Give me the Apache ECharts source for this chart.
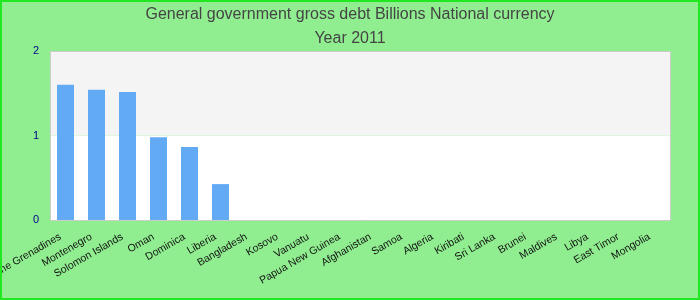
<!DOCTYPE html>
<html><head><meta charset="utf-8">
<script src="https://cdn.jsdelivr.net/npm/echarts@6/dist/echarts.min.js"></script>
<style>html,body{margin:0;padding:0;}#c{width:700px;height:300px;}</style>
</head><body><div id="c"></div>
<script>
const categories = ["Saint Vincent and the Grenadines","Montenegro","Solomon Islands","Oman","Dominica","Liberia","Bangladesh","Kosovo","Vanuatu","Papua New Guinea","Afghanistan","Samoa","Algeria","Kiribati","Sri Lanka","Brunei","Maldives","Libya","East Timor","Mongolia"];
const values = [1.60,1.54,1.515,0.98,0.865,0.425,0,0,0,0,0,0,0,0,0,0,0,0,0,0];
const titleLines = ["General government gross debt Billions National currency","Year 2011"];
const chart = echarts.init(document.getElementById('c'));
chart.setOption({
  backgroundColor: '#90ee90',
  animation: false,
  title: {text: titleLines.join('\n'), left: 'center', top: -2,
    textStyle: {color: '#444', fontSize: 16, fontWeight: 'normal', fontFamily: 'Liberation Sans, Arial', lineHeight: 24}},
  graphic: [
    {type: 'rect', x: 0, y: 0, shape: {x: 1, y: 1, width: 698, height: 298}, silent: true, z: 100,
      style: {fill: 'none', stroke: '#22e822', lineWidth: 2}},
    {type: 'rect', x: 0, y: 0, shape: {x: 50.5, y: 51.5, width: 620, height: 169}, silent: true, z: 100,
      style: {fill: 'none', stroke: '#cccccc', lineWidth: 1}}
  ],
  grid: {left: 50, right: 30, top: 51, bottom: 80, containLabel: false, outerBoundsMode: 'none'},
  xAxis: {type: 'category', data: categories,
    axisLine: {show: false}, axisTick: {show: false},
    axisLabel: {interval: 0, rotate: 30, color: '#111', fontSize: 10.5, fontFamily: 'Liberation Sans, Arial', margin: 13, padding: [0, 6, 0, 0]}},
  yAxis: {type: 'value', min: 0, max: 2, interval: 1,
    axisLine: {show: false}, axisTick: {show: false}, splitLine: {show: false},
    splitArea: {show: true, areaStyle: {color: ['#ffffff', '#f4f4f4']}},
    axisLabel: {color: '#00008b', fontSize: 11, fontFamily: 'Liberation Sans, Arial', margin: 11}},
  series: [{type: 'bar', data: values, barWidth: 17, itemStyle: {color: '#63aaf5'}}]
});
</script></body></html>
